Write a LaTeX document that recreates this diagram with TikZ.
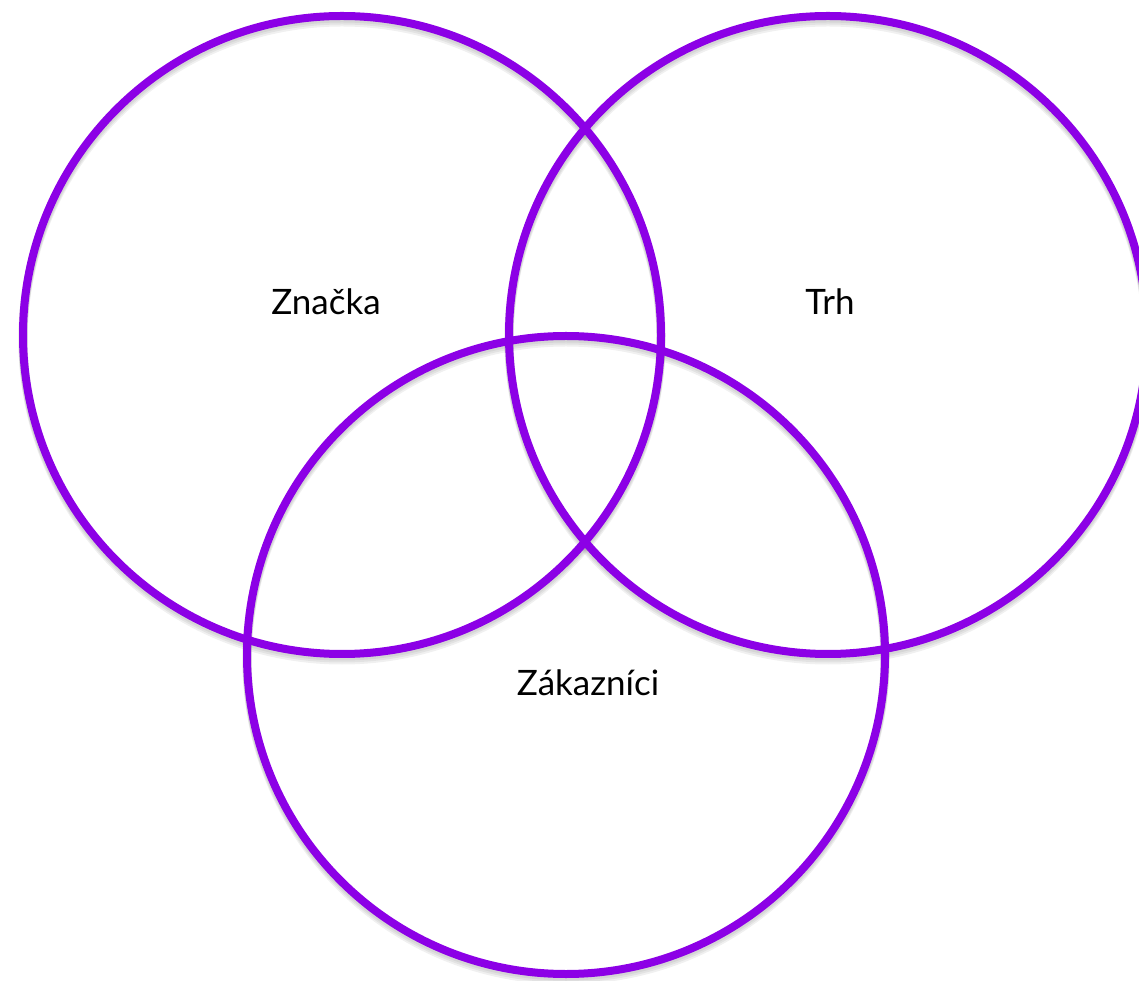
\documentclass[tikz,border=0pt]{standalone}
\usepackage{fontspec}
\setmainfont{Lato}
\usetikzlibrary{positioning}
\definecolor{venn}{RGB}{140,0,230}

\begin{document}
\begin{tikzpicture}[x=1pt,y=1pt,
  ring/.style={circle,draw=venn,line width=8pt,minimum size=638pt,inner sep=0pt},
  ringshade/.style={circle,draw=black,opacity=0.06,line width=9pt,minimum size=638pt,inner sep=0pt},
  word/.style={font=\fontsize{35}{40}\selectfont}]
\useasboundingbox (0,0) rectangle (1139,980);
%shadows
\foreach \s in {2,4,6}{
\node[ringshade] at (342,645-\s) {};
\node[ringshade] at (828,645-\s) {};
\node[ringshade] at (566,325-\s) {};
}
%rings
\node[ring] (znacka) at (342,645) {};
\node[ring] (trh) at (828,645) {};
\node[ring] (zakaznici) at (566,325) {};
\node[word] (lznacka) at (326,678) {Značka};
\node[word] (ltrh) at (830,678) {Trh};
\node[word] (lzakaznici) at (588,297) {Zákazníci};
\end{tikzpicture}
\end{document}
